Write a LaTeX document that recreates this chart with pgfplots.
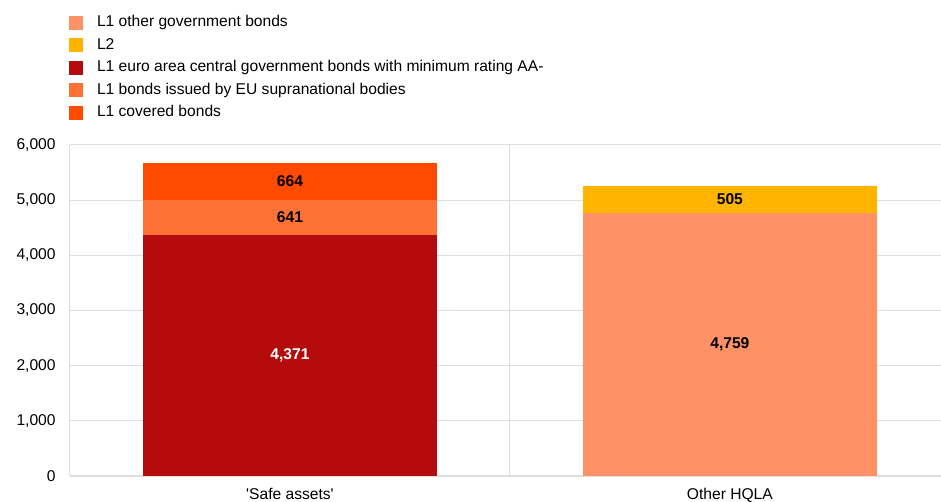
\documentclass[border=0pt]{standalone}
\usepackage{fontspec}
\setmainfont{Liberation Sans}
\usepackage{pgfplots}
\pgfplotsset{compat=1.18}
\usetikzlibrary{calc}

\definecolor{othergov}{RGB}{255,145,102}
\definecolor{ltwo}{RGB}{255,180,0}
\definecolor{euroarea}{RGB}{180,12,12}
\definecolor{supra}{RGB}{255,114,53}
\definecolor{covered}{RGB}{255,75,0}
\definecolor{gridgray}{RGB}{222,222,222}

\pgfplotsset{
  sq/.style={legend image code/.code={\fill[##1] (0pt,-5.25pt) rectangle (10.5pt,5.25pt);}},
}

\begin{document}
\begin{tikzpicture}
\begin{axis}[
  name=ax,
  scale only axis,
  width=653.25pt, height=248.25pt,
  font=\fontsize{11.7}{14}\selectfont,
  ybar stacked,
  bar width=0.668,
  xmin=-0.5, xmax=1.48,
  ymin=0, ymax=6000,
  ytick={0,1000,...,6000},
  xtick={0,1},
  xticklabels={\textquotesingle Safe assets\textquotesingle,Other HQLA},
  extra x ticks={0.5},
  extra x tick labels={},
  extra x tick style={grid=major},
  ymajorgrids,
  grid style={draw=gridgray, line width=0.75pt},
  axis lines*=left,
  x axis line style={-, draw=gridgray, line width=1pt},
  y axis line style={-, draw=gridgray, line width=0.75pt},
  major tick length=0pt,
  tick style={draw=none},
  yticklabel style={xshift=-7.3pt},
  xticklabel style={yshift=-5.8pt},
  /pgf/number format/1000 sep={,},
  /pgf/number format/assume math mode=true,
  nodes near coords,
  point meta=explicit symbolic,
  every node near coord/.append style={font=\fontsize{11.7}{14}\selectfont\bfseries, anchor=center},
  legend style={at={(0,1)}, anchor=south west, xshift=-0.75pt, yshift=18.5pt,
    draw=none, fill=none, inner sep=0pt, outer sep=0pt,
    row sep=5.9pt, column sep=10.5pt,
    nodes={inner sep=0pt, text height=8.5pt, text depth=2.5pt, anchor=west}},
  legend cell align=left,
]
% legend order: L1 other gov, L2, L1 euro area, L1 EU supranational, L1 covered
\addplot[sq, fill=othergov, draw=none] coordinates {(0,0) [] (1,4759) [4,759]};
\addplot[sq, fill=ltwo, draw=none] coordinates {(0,0) [] (1,505) [505]};
\addplot[sq, fill=euroarea, draw=none, every node near coord/.append style={text=white}] coordinates {(0,4371) [4,371] (1,0) []};
\addplot[sq, fill=supra, draw=none] coordinates {(0,641) [641] (1,0) []};
\addplot[sq, fill=covered, draw=none] coordinates {(0,664) [664] (1,0) []};
\legend{L1 other government bonds, L2, L1 euro area central government bonds with minimum rating AA-, L1 bonds issued by EU supranational bodies, L1 covered bonds}
\end{axis}
\pgfresetboundingbox
\useasboundingbox ($(ax.south west)+(-52.5pt,-19.5pt)$) rectangle ($(ax.north east)+(0pt,108.75pt)$);
\end{tikzpicture}
\end{document}
